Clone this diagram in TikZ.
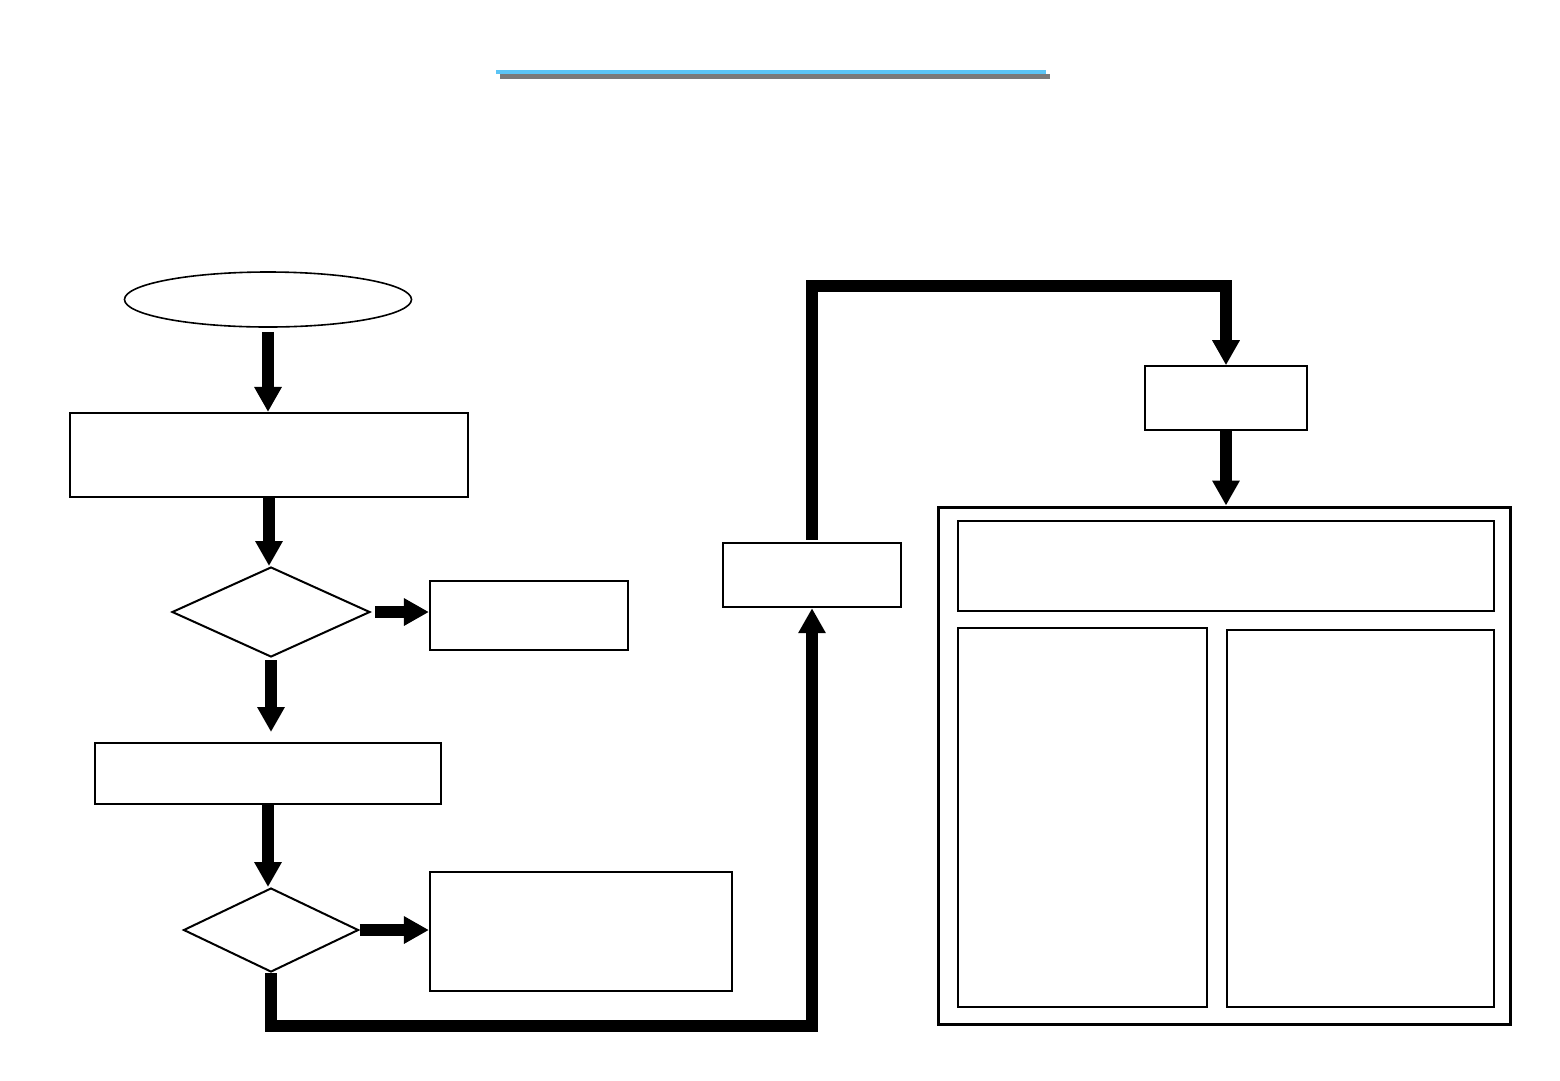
\documentclass[tikz,border=0pt]{standalone}
\usepackage{xcolor}
\usepackage{tikz}
\usetikzlibrary{arrows.meta,calc,shapes.geometric}
\definecolor{Ink}{HTML}{000000}
\definecolor{Rule}{HTML}{5BC4F5}
\definecolor{RuleShade}{HTML}{7A7A7A}
\newcommand{\flowbox}[6]{%
  \node[draw=Ink,line width=#6,minimum width=#4,minimum height=#5,inner sep=0pt] (#1) at (#2,#3) {};}

\begin{document}
\begin{tikzpicture}[x=1pt,y=-1pt,
    flow/.style={-{Triangle[length=25pt,width=26pt]},line width=12pt,color=Ink},
    choice/.style={diamond,draw=Ink,line width=2pt,inner sep=0pt}]
    \useasboundingbox (0,0) rectangle (1560,1080);
    % title rule
    \draw[line width=4.5pt,RuleShade] (500,76.5) -- (1050,76.5);
    \draw[line width=4.5pt,Rule] (496,72) -- (1046,72);
    % left column
    \node[ellipse,draw=Ink,line width=1.6pt,minimum width=287,minimum height=55,inner sep=0pt] (start) at (268,299.5) {};
    \flowbox{b1}{269}{455}{398}{84}{2.2pt}
    \node[choice,minimum width=198,minimum height=90] (q1) at (271,612) {};
    \flowbox{b2}{529}{615.5}{198}{69}{2.2pt}
    \flowbox{b3}{268}{773.5}{346}{61}{2pt}
    \node[choice,minimum width=175,minimum height=84] (q2) at (271,930) {};
    \flowbox{b4}{581}{931.5}{302}{119}{2.2pt}
    % right side
    \flowbox{b5}{812}{575}{178}{64}{2.4pt}
    \flowbox{b6}{1226}{398}{162}{64}{1.6pt}
    \flowbox{panel}{1224}{765.5}{572}{517}{3pt}
    \flowbox{ptop}{1226}{566}{536}{90}{1.6pt}
    \flowbox{pleft}{1082.5}{817.5}{249}{379}{1.6pt}
    \flowbox{pright}{1360.5}{818.5}{267}{377}{1.6pt}
    % connectors
    \coordinate (lowturn) at (812,1026);
    \coordinate (highturn) at (812,286);
    \draw[flow,shorten <=4pt] (start.south) -- (start.south |- b1.north);
    \draw[flow] (b1.south) -- (b1.south |- q1.north);
    \draw[flow,shorten <=4pt] (q1.east) -- (q1.east -| b2.west);
    \draw[flow,shorten <=2pt] (q1.south) -- ($(q1.south |- b3.north)+(0,-10)$);
    \draw[flow] (b3.south) -- (b3.south |- q2.north);
    \draw[flow] (q2.east) -- (q2.east -| b4.west);
    \draw[flow] (q2.south) |- (lowturn) -- (b5.south);
    \draw[flow,shorten <=2pt] (b5.north) -- (highturn) -| (b6.north);
    \draw[flow] (b6.south) -- (b6.south |- panel.north);
\end{tikzpicture}
\end{document}
